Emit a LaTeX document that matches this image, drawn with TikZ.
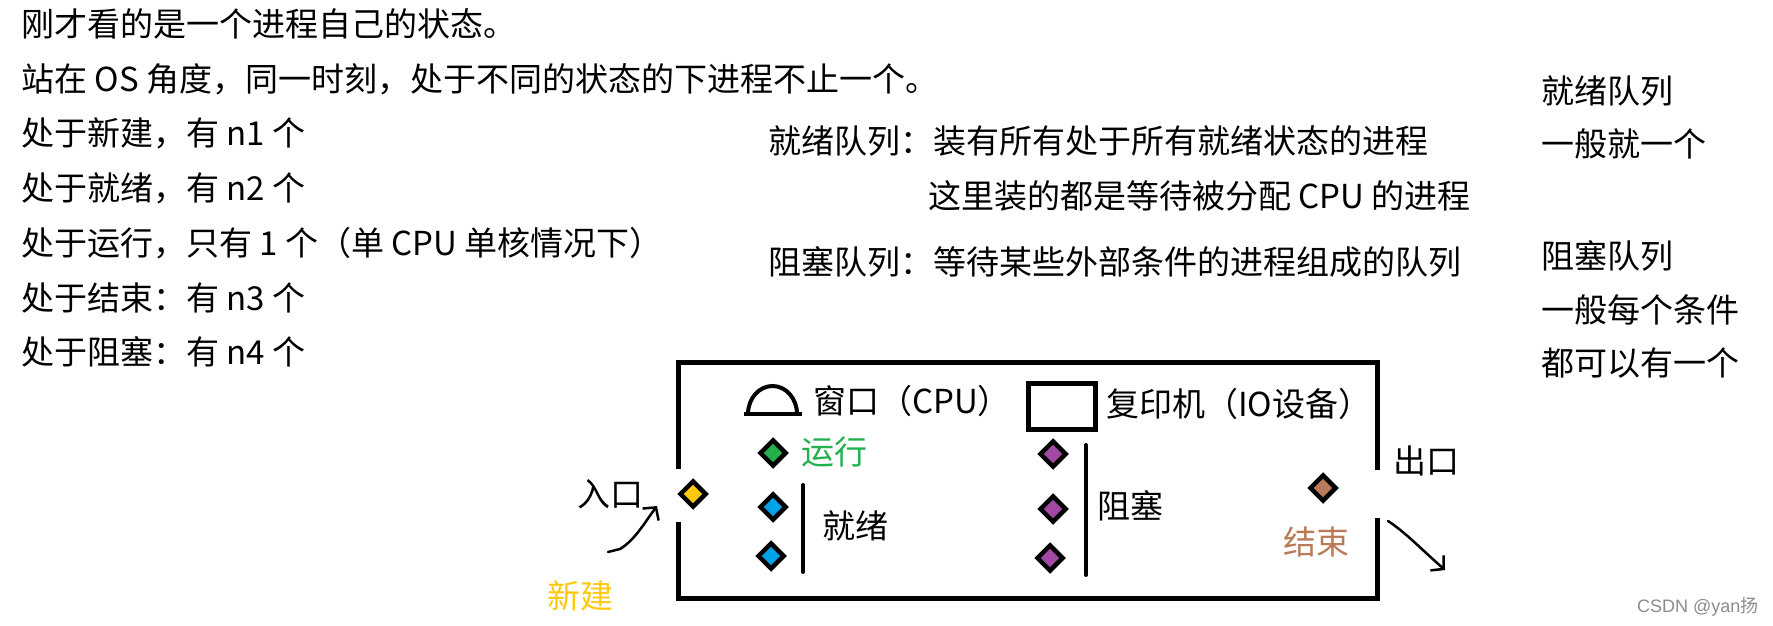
\documentclass[tikz,border=0pt]{standalone}
\usepackage{fontspec}
\setmainfont{Noto Sans CJK SC}
\newfontfamily\markfont{Liberation Sans}
\usetikzlibrary{positioning,shapes.geometric,arrows.meta}
\definecolor{newyellow}{HTML}{FFC90E}
\definecolor{rungreen}{HTML}{22B14C}
\definecolor{readyblue}{HTML}{00A2E8}
\definecolor{blockpurple}{HTML}{A349A4}
\definecolor{endbrown}{HTML}{B97A57}

\begin{document}
\begin{tikzpicture}[x=1pt, y=-1pt,
        say/.style = {anchor=west, inner sep=0pt, font=\fontsize{33pt}{40pt}\selectfont, text height=28pt, text depth=5pt},
        proc/.style = {diamond, draw=black, line width=4.5pt, fill=#1, inner sep=0pt, minimum width=27pt, minimum height=27pt},
        wall/.style = {line width=5pt},
        bar/.style = {line width=4pt, line cap=round},
        hand/.style = {line width=2.5pt, line cap=round, -{Straight Barb[length=9pt, width=20pt]}}
    ]
    \useasboundingbox[fill=white] (0,0) rectangle (1773,626);

    % what the OS sees
    \node[say] (l1) at (21,25) {刚才看的是一个进程自己的状态。};
    \node[say] (l2) [below=54.7pt of l1.west, anchor=west] {站在 OS 角度，同一时刻，处于不同的状态的下进程不止一个。};
    \node[say] (l3) [below=54.7pt of l2.west, anchor=west] {处于新建，有 n1 个};
    \node[say] (l4) [below=54.7pt of l3.west, anchor=west] {处于就绪，有 n2 个};
    \node[say] (l5) [below=54.7pt of l4.west, anchor=west] {处于运行，只有 1 个（单 CPU 单核情况下）};
    \node[say] (l6) [below=54.7pt of l5.west, anchor=west] {处于结束：有 n3 个};
    \node[say] (l7) [below=54.7pt of l6.west, anchor=west] {处于阻塞：有 n4 个};

    \node[say] (q1) at (768,142) {就绪队列：装有所有处于所有就绪状态的进程};
    \node[say] (q2) at (928,197) {这里装的都是等待被分配 CPU 的进程};
    \node[say] (q3) at (768,263) {阻塞队列：等待某些外部条件的进程组成的队列};

    \node[say] (r1) at (1541,92) {就绪队列};
    \node[say] (r2) [below=53pt of r1.west, anchor=west] {一般就一个};
    \node[say] (r3) at (1541,257) {阻塞队列};
    \node[say] (r4) [below=54pt of r3.west, anchor=west] {一般每个条件};
    \node[say] (r5) [below=53pt of r4.west, anchor=west] {都可以有一个};

    % the room
    \draw[wall] (678,469) -- (678,362) -- (1377,362) -- (1377,470);
    \draw[wall] (678,522) -- (678,598) -- (1377,598) -- (1377,518);

    \draw[line width=4pt] (744,414) -- (802,414);
    \draw[line width=4pt] (748,414) arc[start angle=180, end angle=0, x radius=24.5pt, y radius=28pt];
    \node[say] (cpu) at (813,402) {窗口（CPU）};
    \draw[line width=5pt] (1028,383) rectangle (1095,429);
    \node[say] (io) at (1106,405) {复印机（IO设备）};

    \node[proc=newyellow] (new) at (693,494) {};
    \node[proc=rungreen] (run) at (773,453) {};
    \node[proc=readyblue] (rdy1) at (773,507) {};
    \node[proc=readyblue] (rdy2) at (771,556) {};
    \node[proc=blockpurple] (blk1) at (1053,454) {};
    \node[proc=blockpurple] (blk2) at (1053,509) {};
    \node[proc=blockpurple] (blk3) at (1050,558) {};
    \node[proc=endbrown] (fin) at (1323,488) {};

    \draw[bar] (803,485) -- (803,572);
    \draw[bar] (1086,445) -- (1086,575);

    \node[say, text=rungreen] (runlbl) [right=13pt of run] {运行};
    \node[say] (rdylbl) at (822,527) {就绪};
    \node[say] (blklbl) at (1097,507) {阻塞};
    \node[say, text=endbrown] (finlbl) at (1283,543) {结束};
    \node[say, text=newyellow] (newlbl) at (547,597) {新建};
    \node[say] (inlbl) at (577,495) {入口};
    \node[say] (outlbl) at (1393,462) {出口};

    \coordinate (inbeg) at (608,552);
    \coordinate (intip) at (657,506);
    \draw[hand] (inbeg) -- (620,549) .. controls (635,540) and (645,522) .. (intip);
    \coordinate (outbeg) at (1388,521);
    \coordinate (outtip) at (1445,570);
    \draw[hand] (outbeg) .. controls (1405,532) and (1420,548) .. (outtip);

    \node[anchor=west, inner sep=0pt, text=black!45, font=\fontsize{18pt}{20pt}\selectfont] (mark) at (1637,607) {{\markfont CSDN @yan}扬};
\end{tikzpicture}
\end{document}
